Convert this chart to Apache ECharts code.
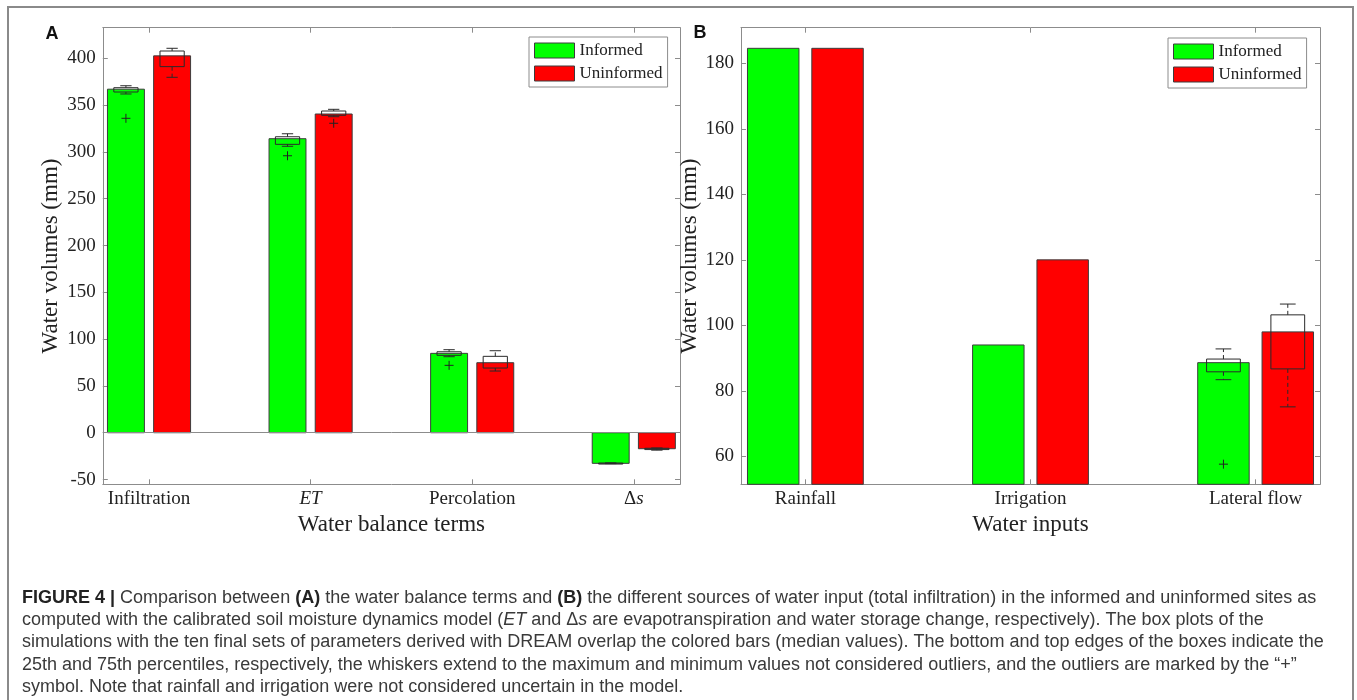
<!DOCTYPE html>
<html><head><meta charset="utf-8">
<script src="https://cdn.jsdelivr.net/npm/echarts@6/dist/echarts.min.js"></script>
<style>html,body{margin:0;padding:0;background:#fff}#c{width:1357px;height:700px}</style>
</head><body><div id="c"></div>
<script>
// ---------------- data ----------------
const catsA = ['Infiltration', 'ET', 'Percolation', 'Δs'];
const catsB = ['Rainfall', 'Irrigation', 'Lateral flow'];
const yTicksA = [-50, 0, 50, 100, 150, 200, 250, 300, 350, 400];
const yTicksB = [60, 80, 100, 120, 140, 160, 180];
const informedA = [367.0, 314.1, 84.8, -32.7];
const uninformedA = [402.6, 340.5, 74.8, -17.1];
const informedB = [184.6, 94.0, 88.6];
const uninformedB = [184.6, 120.0, 98.0];
// box stats: [category no., lower whisker, 25th pct, 75th pct, upper whisker]
const boxInformedA = [[1, 361.9, 364.0, 368.6, 370.7], [2, 306.0, 308.1, 316.2, 319.4], [3, 81.2, 82.7, 86.5, 88.7], [4, -33.0, -32.9, -32.4, -32.2]];
const boxUninformedA = [[1, 379.7, 391.1, 407.8, 410.7], [2, 337.6, 339.1, 343.7, 345.5], [3, 65.9, 69.1, 81.6, 87.6], [4, -18.6, -18.0, -16.6, -16.3]];
const outInformedA = [[1, 335.9], [2, 295.9], [3, 72.0]];
const outUninformedA = [[2, 330.6]];
const boxInformedB = [[3, 83.4, 85.8, 89.7, 92.8]];
const boxUninformedB = [[3, 75.1, 86.7, 103.2, 106.5]];
const outInformedB = [[3, 57.6]];
const outUninformedB = [];

// ---------------- style ----------------
const SERIF = "'Liberation Serif', 'DejaVu Serif', serif";
const SANS = "'Liberation Sans', Arial, sans-serif";
const GREEN = '#00ff00', RED = '#ff0000';
const AXC = '#8c8c8c', TXT = '#222';
const OFF = 0.1429, BW = 0.2286, BOXW = 0.15, CAPW = 0.07;

function renderBar(offset) {
  return function (params, api) {
    const x = api.value(0) + offset, v = api.value(1);
    const cs = params.coordSys;
    const a = api.coord([x - BW / 2, v]);
    const b = api.coord([x + BW / 2, 0]);
    let y0 = Math.min(a[1], b[1]), y1 = Math.max(a[1], b[1]);
    y0 = Math.max(y0, cs.y); y1 = Math.min(y1, cs.y + cs.height);
    return { type: 'rect', shape: { x: a[0], y: y0, width: b[0] - a[0], height: y1 - y0 },
      style: { fill: api.visual('color'), stroke: '#3c3c3c', lineWidth: 1 } };
  };
}
function renderBox(offset) {
  return function (params, api) {
    const x = api.value(0) + offset;
    const lw = api.value(1), q1 = api.value(2), q3 = api.value(3), uw = api.value(4);
    const tl = api.coord([x - BOXW / 2, q3]), br = api.coord([x + BOXW / 2, q1]);
    const c = api.coord([x, 0])[0];
    const cu = api.coord([x - CAPW / 2, uw]), cu2 = api.coord([x + CAPW / 2, uw]);
    const cl = api.coord([x - CAPW / 2, lw]), cl2 = api.coord([x + CAPW / 2, lw]);
    const ls = { stroke: '#2a2a2a', lineWidth: 1, fill: null };
    const ds = { stroke: '#2a2a2a', lineWidth: 1, lineDash: [4, 3], fill: null };
    return { type: 'group', children: [
      { type: 'line', shape: { x1: c, y1: tl[1], x2: c, y2: cu[1] }, style: ds },
      { type: 'line', shape: { x1: c, y1: br[1], x2: c, y2: cl[1] }, style: ds },
      { type: 'line', shape: { x1: cu[0], y1: cu[1], x2: cu2[0], y2: cu2[1] }, style: ls },
      { type: 'line', shape: { x1: cl[0], y1: cl[1], x2: cl2[0], y2: cl2[1] }, style: ls },
      { type: 'rect', shape: { x: tl[0], y: tl[1], width: br[0] - tl[0], height: Math.max(br[1] - tl[1], 1) }, style: ls }
    ] };
  };
}
function renderPlus(offset) {
  return function (params, api) {
    const p = api.coord([api.value(0) + offset, api.value(1)]);
    const s = { stroke: '#222', lineWidth: 1 };
    return { type: 'group', children: [
      { type: 'line', shape: { x1: p[0] - 4.5, y1: p[1], x2: p[0] + 4.5, y2: p[1] }, style: s },
      { type: 'line', shape: { x1: p[0], y1: p[1] - 4.5, x2: p[0], y2: p[1] + 4.5 }, style: s }
    ] };
  };
}

const tickFont = { color: TXT, fontFamily: SERIF, fontSize: 19 };
const richCat = {
  i: { fontFamily: SERIF, fontSize: 19, fontStyle: 'italic', color: TXT },
  n: { fontFamily: SERIF, fontSize: 19, color: TXT }
};
function catFormatter(cats) {
  return function (v) {
    const name = cats[Math.round(v) - 1] || '';
    if (name === 'ET') return '{i|ET}';
    if (name === 'Δs') return '{n|Δ}{i|s}';
    return '{n|' + name + '}';
  };
}
const nameStyle = { color: TXT, fontFamily: SERIF, fontSize: 23 };

function xAxes(gi, n, cats, title) {
  const tv = cats.map((c, i) => i + 1);
  const base = { gridIndex: gi, type: 'value', min: 0.714, max: n + 0.286, splitLine: { show: false },
    axisLine: { show: true, onZero: false, lineStyle: { color: AXC, width: 1 } },
    axisTick: { show: true, inside: true, length: 5, customValues: tv, lineStyle: { color: AXC } } };
  return [
    Object.assign({}, base, { position: 'bottom',
      axisLabel: { show: true, customValues: tv, formatter: catFormatter(cats), margin: 5, rich: richCat },
      name: title, nameLocation: 'middle', nameGap: 28, nameTextStyle: nameStyle }),
    Object.assign({}, base, { position: 'top', axisLabel: { show: false } })
  ];
}
function yAxes(gi, min, max, ticks, gap) {
  const base = { gridIndex: gi, type: 'value', min: min, max: max, splitLine: { show: false },
    axisLine: { show: true, onZero: false, lineStyle: { color: AXC, width: 1 } },
    axisTick: { show: true, inside: true, length: 5, customValues: ticks, lineStyle: { color: AXC } } };
  return [
    Object.assign({}, base, { position: 'left',
      axisLabel: Object.assign({ show: true, customValues: ticks, margin: 7 }, tickFont),
      name: 'Water volumes (mm)', nameLocation: 'middle', nameGap: gap, nameTextStyle: nameStyle }),
    Object.assign({}, base, { position: 'right', axisLabel: { show: false } })
  ];
}

function panelSeries(xi, yi, inf, uninf, boxInf, boxUninf, outInf, outUninf, zeroLine) {
  const pairs = arr => arr.map((v, i) => [i + 1, v]);
  const s = [
    { type: 'custom', name: 'Informed', xAxisIndex: xi, yAxisIndex: yi, itemStyle: { color: GREEN },
      renderItem: renderBar(-OFF), encode: { x: 0, y: 1 }, data: pairs(inf), z: 2 },
    { type: 'custom', name: 'Uninformed', xAxisIndex: xi, yAxisIndex: yi, itemStyle: { color: RED },
      renderItem: renderBar(OFF), encode: { x: 0, y: 1 }, data: pairs(uninf), z: 2 },
    { type: 'custom', name: 'box-inf', xAxisIndex: xi, yAxisIndex: yi, renderItem: renderBox(-OFF),
      encode: { x: 0, y: [1, 2, 3, 4] }, data: boxInf, z: 4 },
    { type: 'custom', name: 'box-uninf', xAxisIndex: xi, yAxisIndex: yi, renderItem: renderBox(OFF),
      encode: { x: 0, y: [1, 2, 3, 4] }, data: boxUninf, z: 4 },
    { type: 'custom', name: 'out-inf', xAxisIndex: xi, yAxisIndex: yi, renderItem: renderPlus(-OFF),
      encode: { x: 0, y: 1 }, data: outInf, z: 5 },
    { type: 'custom', name: 'out-uninf', xAxisIndex: xi, yAxisIndex: yi, renderItem: renderPlus(OFF),
      encode: { x: 0, y: 1 }, data: outUninf, z: 5 }
  ];
  if (zeroLine) {
    s[0].markLine = { silent: true, symbol: ['none', 'none'], label: { show: false },
      lineStyle: { color: '#8c8c8c', type: 'solid', width: 1 }, data: [{ yAxis: 0 }], animation: false };
  }
  return s;
}

const legendBase = { orient: 'vertical', icon: 'rect', itemWidth: 40, itemHeight: 15, itemGap: 6,
  padding: 5, backgroundColor: '#fff', borderColor: '#8c8c8c', borderWidth: 1, borderRadius: 0,
  selectedMode: false, data: ['Informed', 'Uninformed'],
  itemStyle: { borderColor: '#3c3c3c', borderWidth: 1 },
  textStyle: { color: TXT, fontFamily: SERIF, fontSize: 17 } };

const CAPFS = 18;
const capStyle = { fill: '#3a3a3a', fontFamily: SANS, fontSize: CAPFS };
const capRich = {
  b: { fill: '#222', fontFamily: SANS, fontSize: CAPFS, fontWeight: 'bold' },
  i: { fill: '#3a3a3a', fontFamily: SANS, fontSize: CAPFS, fontStyle: 'italic' }
};
const captionLines = [
  '{b|FIGURE 4 |} Comparison between {b|(A)} the water balance terms and {b|(B)} the different sources of water input (total infiltration) in the informed and uninformed sites as',
  'computed with the calibrated soil moisture dynamics model ({i|ET} and Δ{i|s} are evapotranspiration and water storage change, respectively). The box plots of the',
  'simulations with the ten final sets of parameters derived with DREAM overlap the colored bars (median values). The bottom and top edges of the boxes indicate the',
  '25th and 75th percentiles, respectively, the whiskers extend to the maximum and minimum values not considered outliers, and the outliers are marked by the “+”',
  'symbol. Note that rainfall and irrigation were not considered uncertain in the model.'
];

const graphics = [
  { type: 'rect', shape: { x: 8, y: 7, width: 1345, height: 720 }, style: { fill: null, stroke: '#8a8a8a', lineWidth: 2 }, silent: true },
  { type: 'text', x: 52, y: 34, style: { text: 'A', fill: '#111', fontFamily: SANS, fontSize: 18, fontWeight: 'bold', align: 'center', verticalAlign: 'middle' } },
  { type: 'text', x: 700, y: 33, style: { text: 'B', fill: '#111', fontFamily: SANS, fontSize: 18, fontWeight: 'bold', align: 'center', verticalAlign: 'middle' } }
].concat(captionLines.map((t, k) => ({ type: 'text', x: 22, y: 598 + k * 22.2,
  style: Object.assign({ text: t, rich: capRich, verticalAlign: 'middle', align: 'left' }, capStyle) })));

const chart = echarts.init(document.getElementById('c'), null, { renderer: 'canvas' });
chart.setOption({
  animation: false,
  backgroundColor: '#fff',
  grid: [
    { left: 102.8, top: 27.7, width: 577.2, height: 456.6 },
    { left: 741, top: 27.7, width: 579, height: 456.6 }
  ],
  xAxis: xAxes(0, catsA.length, catsA, 'Water balance terms').concat(xAxes(1, catsB.length, catsB, 'Water inputs')),
  yAxis: yAxes(0, -55.1, 432.7, yTicksA, 40).concat(yAxes(1, 51.45, 190.9, yTicksB, 35)),
  legend: [
    Object.assign({}, legendBase, { left: 529, top: 37 }),
    Object.assign({}, legendBase, { left: 1168, top: 38 })
  ],
  series: panelSeries(0, 0, informedA, uninformedA, boxInformedA, boxUninformedA, outInformedA, outUninformedA, true)
    .concat(panelSeries(2, 2, informedB, uninformedB, boxInformedB, boxUninformedB, outInformedB, outUninformedB, false)),
  graphic: graphics
});
</script></body></html>
